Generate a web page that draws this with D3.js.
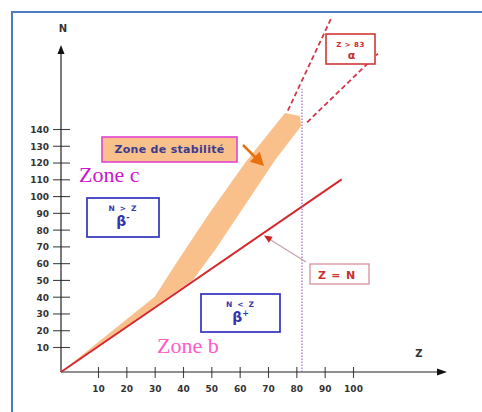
<!DOCTYPE html>
<html><head><meta charset="utf-8">
<script src="https://cdn.jsdelivr.net/npm/d3@7"></script>
<style>html,body{margin:0;padding:0;background:#fff;} svg{display:block;}</style>
</head><body>
<svg id="chart" width="482" height="412"></svg>
<script>
// ---- data ----
const zTicks = [10, 20, 30, 40, 50, 60, 70, 80, 90, 100];
const nTicks = [10, 20, 30, 40, 50, 60, 70, 80, 90, 100, 110, 120, 130, 140];
const zEqualsNLine = [[0, 0], [96, 110]];
const stabilityUpperEdge = [[0, 0], [30, 40], [38, 61], [49, 89], [62, 120], [76, 149.5]];
const stabilityLowerEdge = [[0, 0], [33, 37.8], [43.5, 50], [51.3, 67.8], [61.9, 94.7], [72.5, 121.5], [81.7, 141.8], [81.3, 147.7]];
const alphaEdgeA = [[77, 151], [92.6, 207]];
const alphaEdgeB = [[83.8, 144], [108.8, 185]];
const zLimit = [[82, 0], [82, 164]];

// ---- scales (schematic axis: short first interval) ----
const x = d3.scaleLinear().domain([0, 10, 100]).range([61, 98, 353]);
const y = d3.scaleLinear().domain([0, 10, 140]).range([372, 347, 129]);

const svg = d3.select("#chart");
const line = d3.line().x(d => x(d[0])).y(d => y(d[1]));
const boldFont = "'DejaVu Sans', Verdana, sans-serif";

// frame
svg.append("rect").attr("x", 12).attr("y", 12).attr("width", 490).attr("height", 420)
  .attr("fill", "none").attr("stroke", "#4a7dbd").attr("stroke-width", 2);

// stability band
const band = stabilityUpperEdge.concat(stabilityLowerEdge.slice().reverse());
svg.append("path").attr("d", line(band) + "Z").attr("fill", "#f9c08c").attr("stroke", "none");

// axes
const ox = x(0), oy = y(0);
const gx = svg.append("g").attr("transform", `translate(0,${oy})`)
  .call(d3.axisBottom(x).tickValues(zTicks).tickFormat(d3.format("d")));
gx.select(".domain").remove();
gx.selectAll(".tick line").attr("y1", -5).attr("y2", 6).attr("stroke", "#444").attr("stroke-width", 1.1);
gx.selectAll(".tick text").attr("y", 20).attr("dy", 0)
  .attr("font-family", boldFont).attr("font-weight", "bold").attr("font-size", 9).attr("fill", "#333");

const gy = svg.append("g").attr("transform", `translate(${ox},0)`)
  .call(d3.axisLeft(y).tickValues(nTicks).tickFormat(d3.format("d")));
gy.select(".domain").remove();
gy.selectAll(".tick line").attr("x1", -8).attr("x2", 9).attr("stroke", "#444").attr("stroke-width", 1.1);
gy.selectAll(".tick text").attr("x", -12).attr("dy", "0.38em")
  .attr("font-family", boldFont).attr("font-weight", "bold").attr("font-size", 9).attr("fill", "#333");

// axis lines with arrows
svg.append("line").attr("x1", ox).attr("y1", oy).attr("x2", ox).attr("y2", 52).attr("stroke", "#222").attr("stroke-width", 1.2);
svg.append("path").attr("d", `M${ox},45 L${ox - 3.5},54 L${ox + 3.5},54 Z`).attr("fill", "#111");
svg.append("line").attr("x1", ox).attr("y1", oy).attr("x2", 440).attr("y2", oy).attr("stroke", "#222").attr("stroke-width", 1.2);
svg.append("path").attr("d", `M447,${oy} L437,${oy - 3.5} L437,${oy + 3.5} Z`).attr("fill", "#111");

svg.append("text").attr("x", 63).attr("y", 31.5).attr("text-anchor", "middle")
  .attr("font-family", boldFont).attr("font-weight", "bold").attr("font-size", 10).attr("fill", "#333").text("N");
svg.append("text").attr("x", 419).attr("y", 357).attr("text-anchor", "middle")
  .attr("font-family", boldFont).attr("font-weight", "bold").attr("font-size", 10).attr("fill", "#333").text("Z");

// Z = N line
svg.append("path").attr("d", line(zEqualsNLine)).attr("fill", "none").attr("stroke", "#d42a2e").attr("stroke-width", 2);

// dotted Z limit
svg.append("path").attr("d", line(zLimit)).attr("fill", "none").attr("stroke", "#9b6bd0")
  .attr("stroke-width", 1.2).attr("stroke-dasharray", "1.5,1.5");

// alpha dashed lines
[alphaEdgeA, alphaEdgeB].forEach(e => {
  svg.append("path").attr("d", line(e)).attr("fill", "none").attr("stroke", "#d4364a")
    .attr("stroke-width", 1.8).attr("stroke-dasharray", "5,3");
});

// ---- annotations ----
function arrowHead(tipX, tipY, fromX, fromY, len, half, color) {
  const dx = tipX - fromX, dy = tipY - fromY, L = Math.hypot(dx, dy);
  const ux = dx / L, uy = dy / L, bx = tipX - ux * len, by = tipY - uy * len;
  const px = -uy, py = ux;
  svg.append("path").attr("d", `M${tipX},${tipY} L${bx + px * half},${by + py * half} L${bx - px * half},${by - py * half} Z`).attr("fill", color);
}

// Zone de stabilité label
svg.append("rect").attr("x", 102).attr("y", 137).attr("width", 135).attr("height", 25)
  .attr("fill", "#f9c08c").attr("stroke", "#e244d2").attr("stroke-width", 1.6);
svg.append("text").attr("x", 169.5).attr("y", 153).attr("text-anchor", "middle")
  .attr("font-family", boldFont).attr("font-weight", "bold").attr("font-size", 11).attr("letter-spacing", 0.3)
  .attr("fill", "#3b3b8f").text("Zone de stabilité");
svg.append("line").attr("x1", 243).attr("y1", 145).attr("x2", 256).attr("y2", 158).attr("stroke", "#e8700e").attr("stroke-width", 2.5);
arrowHead(264, 166, 243, 145, 13, 7, "#e8700e");

// Zone c / Zone b
svg.append("text").attr("x", 79).attr("y", 182).attr("font-family", "'Liberation Serif', 'Times New Roman', serif")
  .attr("font-size", 22).attr("fill", "#cc16cc").text("Zone c");
svg.append("text").attr("x", 157).attr("y", 353).attr("font-family", "'Liberation Serif', 'Times New Roman', serif")
  .attr("font-size", 22).attr("fill", "#ff5cc8").text("Zone b");

// beta boxes
function betaBox(bx, by, w, h, cond, sup) {
  svg.append("rect").attr("x", bx).attr("y", by).attr("width", w).attr("height", h)
    .attr("fill", "#fff").attr("stroke", "#3c3cc0").attr("stroke-width", 1.8);
  svg.append("text").attr("x", bx + w / 2).attr("y", by + 13).attr("text-anchor", "middle")
    .attr("font-family", boldFont).attr("font-weight", "bold").attr("font-size", 7.5).attr("letter-spacing", 1.2)
    .attr("fill", "#3a3aa8").text(cond);
  const t = svg.append("text").attr("x", bx + w / 2).attr("y", by + 28).attr("text-anchor", "middle")
    .attr("font-family", boldFont).attr("font-weight", "bold").attr("font-size", 14).attr("fill", "#3434b0");
  t.append("tspan").text("β");
  t.append("tspan").attr("dy", -6).attr("font-size", 8).text(sup);
}
betaBox(87, 198, 72, 39, "N > Z", "-");
betaBox(201, 294, 79, 38, "N < Z", "+");

// Z = N label
svg.append("rect").attr("x", 310).attr("y", 264).attr("width", 59).attr("height", 20)
  .attr("fill", "#fff").attr("stroke", "#d8909a").attr("stroke-width", 1.3);
svg.append("text").attr("x", 337).attr("y", 278.5).attr("text-anchor", "middle")
  .attr("font-family", boldFont).attr("font-weight", "bold").attr("font-size", 11).attr("letter-spacing", 0.8)
  .attr("fill", "#c83232").text("Z = N");
svg.append("line").attr("x1", 306).attr("y1", 262).attr("x2", 270).attr("y2", 239.5).attr("stroke", "#c7a3aa").attr("stroke-width", 1.3);
arrowHead(264, 235.5, 306, 262, 8, 3.5, "#d02020");

// Z > 83 alpha label
svg.append("rect").attr("x", 326).attr("y", 34).attr("width", 49).attr("height", 30)
  .attr("fill", "#fff").attr("stroke", "#d03838").attr("stroke-width", 1.6);
svg.append("text").attr("x", 350.5).attr("y", 47).attr("text-anchor", "middle")
  .attr("font-family", boldFont).attr("font-weight", "bold").attr("font-size", 7).attr("letter-spacing", 0.5)
  .attr("fill", "#cc2a2a").text("Z > 83");
svg.append("text").attr("x", 351.5).attr("y", 59).attr("text-anchor", "middle")
  .attr("font-family", boldFont).attr("font-weight", "bold").attr("font-size", 11)
  .attr("fill", "#cc2a2a").text("α");
</script>
</body></html>
